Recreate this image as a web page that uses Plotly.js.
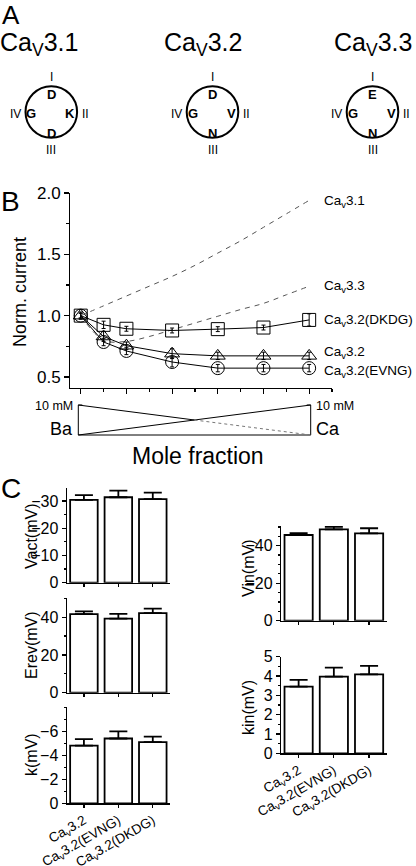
<!DOCTYPE html>
<html>
<head>
<meta charset="utf-8">
<script src="https://cdn.plot.ly/plotly-3.0.1.min.js"></script>
<style>html,body{margin:0;padding:0;background:#fff;}#chart{width:416px;height:866px;}</style>
</head>
<body>
<div id="chart"></div>
<script>
// ---- Panel B data: normalised current vs Ca mole fraction ----
const moleX = [0, 0.1, 0.2, 0.4, 0.6, 0.8, 1.0];
const dkdg = [1.0, 0.925, 0.893, 0.879, 0.89, 0.903, 0.965];
const dkdgErr = [0.02, 0.03, 0.02, 0.02, 0.02, 0.02, 0.05];
const cav32 = [1.0, 0.83, 0.755, 0.69, 0.672, 0.672, 0.672];
const cav32Err = [0.03, 0.04, 0.03, 0.04, 0.03, 0.03, 0.03];
const evng = [1.0, 0.785, 0.712, 0.622, 0.572, 0.572, 0.572];
const evngErr = [0.02, 0.03, 0.03, 0.04, 0.03, 0.03, 0.03];
const fitX = [0, 0.1, 0.2, 0.3, 0.4, 0.5, 0.6, 0.7, 0.8, 0.9, 1.0];
const fit31 = [1.0, 1.08, 1.16, 1.24, 1.32, 1.41, 1.51, 1.61, 1.72, 1.83, 1.94];
const fit33 = [1.0, 0.80, 0.79, 0.83, 0.885, 0.94, 0.995, 1.05, 1.10, 1.17, 1.24];

// ---- Panel C data ----
const cats = ['Ca<sub>v</sub>3.2', 'Ca<sub>v</sub>3.2(EVNG)', 'Ca<sub>v</sub>3.2(DKDG)'];
const vact = [-30.4, -31.4, -30.7];
const vactErr = [1.8, 2.4, 2.4];
const erev = [41.6, 39.2, 42.1];
const erevErr = [1.5, 2.5, 2.4];
const kAct = [-4.8, -5.4, -5.1];
const kActErr = [0.55, 0.6, 0.45];
const vin = [-45.7, -48.7, -46.6];
const vinErr = [1.0, 1.4, 2.7];
const kin = [3.45, 3.97, 4.09];
const kinErr = [0.35, 0.46, 0.43];

const W = 416, H = 866;
const FONT = 'Liberation Sans, Arial, Helvetica, sans-serif';
const px = v => v / W;
const py = v => 1 - v / H;

const traces = [];
// dashed fitted curves
traces.push({x: fitX, y: fit31, mode: 'lines', line: {color: '#555', width: 1, dash: '5px,5px', shape: 'spline'}, xaxis: 'x', yaxis: 'y', hoverinfo: 'skip'});
traces.push({x: fitX, y: fit33, mode: 'lines', line: {color: '#555', width: 1, dash: '5px,5px', shape: 'spline'}, xaxis: 'x', yaxis: 'y', hoverinfo: 'skip'});
function series(y, err, sym) {
  return {x: moleX, y: y, mode: 'lines+markers', xaxis: 'x', yaxis: 'y',
    line: {color: '#000', width: 1},
    marker: {symbol: sym, size: 13, color: '#000', line: {width: 1, color: '#000'}},
    error_y: {type: 'data', array: err, visible: true, color: '#000', thickness: 1, width: 2}};
}
traces.push(series(dkdg, dkdgErr, 'square-open'));
traces.push(series(cav32, cav32Err, 'triangle-up-open'));
traces.push(series(evng, evngErr, 'circle-open'));

function bars(y, err, ax, neg) {
  return {type: 'bar', x: cats, y: y, xaxis: 'x' + ax, yaxis: 'y' + ax, width: 0.8,
    marker: {color: '#fff', line: {color: '#000', width: 1.8}},
    error_y: neg ? {type: 'data', symmetric: false, array: [0,0,0], arrayminus: err, color: '#000', thickness: 1.8, width: 9}
                 : {type: 'data', symmetric: false, array: err, arrayminus: [0,0,0], color: '#000', thickness: 1.8, width: 9}};
}
traces.push(bars(vact, vactErr, 2, true));
traces.push(bars(erev, erevErr, 3, false));
traces.push(bars(kAct, kActErr, 4, true));
traces.push(bars(vin, vinErr, 5, true));
traces.push(bars(kin, kinErr, 6, false));

const axBase = {showline: true, linecolor: '#000', linewidth: 1.2, ticks: 'outside', tickcolor: '#000', tickwidth: 1.2,
  showgrid: false, zeroline: false, tickfont: {family: FONT, size: 16, color: '#000'}, fixedrange: true};
function catAx(dom, anchor, labels) {
  return Object.assign({}, axBase, {domain: dom, anchor: anchor, type: 'category', range: [-0.5, 2.5], ticklen: 3,
    showticklabels: labels, tickangle: -30, tickfont: {family: FONT, size: 13.5, color: '#000'}});
}
function valAx(dom, anchor, range, vals, minorD) {
  return Object.assign({}, axBase, {domain: dom, anchor: anchor, range: range, tickmode: 'array', tickvals: vals,
    ticktext: vals.map(v => (v < 0 ? '\u2212' + String(-v) : String(v))), ticklen: 4,
    minor: {ticks: 'outside', dtick: minorD, ticklen: 2, tickcolor: '#000'}});
}
const leftX = [px(66.7), px(170)];
const rightX = [px(281), px(386.7)];

const layout = {
  width: W, height: H, margin: {l: 0, r: 0, t: 0, b: 0},
  paper_bgcolor: '#fff', plot_bgcolor: 'rgba(0,0,0,0)', showlegend: false,
  font: {family: FONT, color: '#000'},
  xaxis: Object.assign({}, axBase, {domain: [px(70), px(332)], anchor: 'y', range: [-0.047, 1.1], tickvals: [0, 0.2, 0.4, 0.6, 0.8, 1.0],
    showticklabels: false, ticklen: 5, linewidth: 1, minor: {ticks: 'outside', dtick: 0.1, ticklen: 3, tickcolor: '#000'}}),
  yaxis: Object.assign({}, axBase, {domain: [py(388), py(193)], anchor: 'x', range: [0.41, 2.0], tickvals: [0.5, 1.0, 1.5, 2.0],
    tickformat: '.1f', ticklen: 5, linewidth: 1, tickfont: {family: FONT, size: 17, color: '#000'},
    minor: {ticks: 'outside', dtick: 0.25, ticklen: 3, tickcolor: '#000'}}),
  xaxis2: catAx(leftX, 'y2', false),
  yaxis2: valAx([py(582.7), py(488)], 'x2', [0, -34.8], [0, -10, -20, -30], 5),
  xaxis3: catAx(leftX, 'y3', false),
  yaxis3: valAx([py(692.7), py(598.3)], 'x3', [0, 50], [0, 20, 40], 10),
  xaxis4: catAx(leftX, 'y4', true),
  yaxis4: valAx([py(803.3), py(707.3)], 'x4', [0, -8], [0, -2, -4, -6], 1),
  xaxis5: catAx(rightX, 'y5', false),
  yaxis5: valAx([py(620.7), py(526)], 'x5', [0, -50.5], [0, -20, -40], 5),
  xaxis6: catAx(rightX, 'y6', true),
  yaxis6: valAx([py(753.3), py(656.7)], 'x6', [0, 5], [0, 1, 2, 3, 4, 5], 0.5),
  shapes: [], annotations: []
};

function ann(text, x, y, size, opts) {
  layout.annotations.push(Object.assign({text: text, x: px(x), y: py(y), xref: 'paper', yref: 'paper', showarrow: false,
    xanchor: 'center', yanchor: 'middle', font: {family: FONT, size: size, color: '#000'}}, opts || {}));
}
// Panel letters
ann('A', 11, 15, 26);
ann('B', 10, 202, 28);
ann('C', 11, 488, 28);

// Panel A: channel names & pore diagrams
const chanNames = ['Ca<sub>V</sub>3.1', 'Ca<sub>V</sub>3.2', 'Ca<sub>V</sub>3.3'];
const chanCx = [51.3, 212.5, 372.5];
const titleCx = [39, 202.5, 373];
const poreTop = ['D', 'D', 'E'];
const poreRight = ['K', 'V', 'V'];
const poreBottom = ['D', 'N', 'N'];
const poreLeft = ['G', 'G', 'G'];
for (let i = 0; i < 3; i++) {
  const cx = chanCx[i], cy = 112, r = 25.8;
  ann(chanNames[i], titleCx[i], 44, 25);
  layout.shapes.push({type: 'circle', xref: 'paper', yref: 'paper', x0: px(cx - r), x1: px(cx + r), y0: py(cy + r), y1: py(cy - r),
    line: {color: '#000', width: 2}});
  ann('I', cx, 77, 12);
  ann('II', cx + 34, cy + 2, 12);
  ann('III', cx, 150, 12);
  ann('IV', cx - 36, cy + 2, 12);
  ann('<b>' + poreTop[i] + '</b>', cx, 95, 13);
  ann('<b>' + poreBottom[i] + '</b>', cx, 133, 13);
  ann('<b>' + poreLeft[i] + '</b>', cx - 20, cy + 1, 13);
  ann('<b>' + poreRight[i] + '</b>', cx + 19, cy + 1, 13);
}

// Panel B labels
ann('Norm. current', 20, 292, 18, {textangle: -90});
const seriesLabels = ['Ca<sub>v</sub>3.1', 'Ca<sub>v</sub>3.3', 'Ca<sub>v</sub>3.2(DKDG)', 'Ca<sub>v</sub>3.2', 'Ca<sub>v</sub>3.2(EVNG)'];
const seriesLabelY = [202, 286, 320, 352, 371];
seriesLabels.forEach((t, i) => ann(t, 322, seriesLabelY[i], 13.5, {xanchor: 'left'}));

// Ba/Ca mixture diagram
const L = 78.3, R = 310.7, T = 405, B = 435, M = (L + R) / 2;
function seg(x0, y0, x1, y1, dash, color, w) {
  layout.shapes.push({type: 'line', xref: 'paper', yref: 'paper', x0: px(x0), y0: py(y0), x1: px(x1), y1: py(y1),
    line: {color: color || '#000', width: w || 1, dash: dash || 'solid'}});
}
seg(L, T, L, B); seg(R, T, R, B); seg(L, B, R, B);
seg(L, T, L + 4, T); seg(R - 4, T, R, T);
seg(L, B, R, T);
seg(L, T, M, (T + B) / 2);
seg(M, (T + B) / 2, R, B, 'dot', '#777', 1);
ann('10 mM', 75, 406, 12.5, {xanchor: 'right'});
ann('Ba', 75, 429, 18, {xanchor: 'right'});
ann('10 mM', 314, 406, 12.5, {xanchor: 'left'});
ann('Ca', 314, 429, 18, {xanchor: 'left'});
ann('Mole fraction', 197.5, 456, 23);

// Panel C y titles
ann('Vact(mV)', 31, 537, 16, {textangle: -90});
ann('Erev(mV)', 31, 645, 16, {textangle: -90});
ann('k(mV)', 31, 755, 16, {textangle: -90});
ann('Vin(mV)', 248, 568, 16, {textangle: -90});
ann('kin(mV)', 248, 708, 16, {textangle: -90});

Plotly.newPlot('chart', traces, layout, {staticPlot: true, displayModeBar: false});
</script>
</body>
</html>
